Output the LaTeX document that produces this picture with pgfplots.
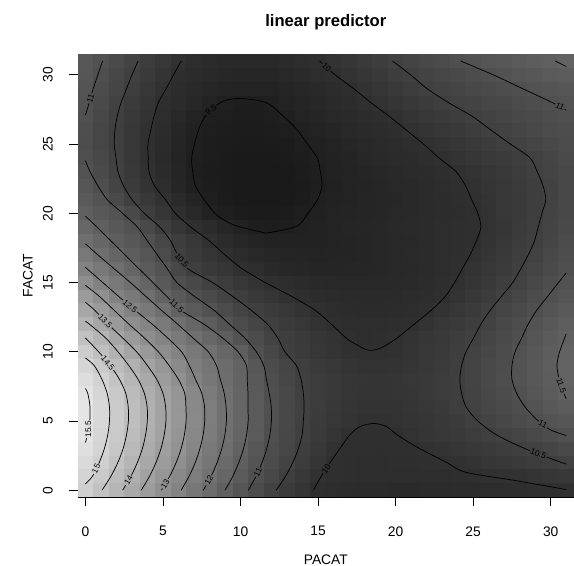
\documentclass[border=0pt]{standalone}
\usepackage{fontspec}
\setmainfont{Liberation Sans}
\usepackage{pgfplots}
\pgfplotsset{compat=1.18}
\definecolor{g95}{gray}{0.124}
\definecolor{g100}{gray}{0.187}
\definecolor{g105}{gray}{0.249}
\definecolor{g110}{gray}{0.312}
\definecolor{g115}{gray}{0.375}
\definecolor{g120}{gray}{0.438}
\definecolor{g125}{gray}{0.501}
\definecolor{g130}{gray}{0.563}
\definecolor{g135}{gray}{0.626}
\definecolor{g140}{gray}{0.689}
\definecolor{g145}{gray}{0.752}
\definecolor{g150}{gray}{0.815}
\definecolor{g155}{gray}{0.877}
\tikzset{lab/.style={font=\fontsize{6.2}{7}\selectfont, inner sep=0.7pt, text=black},
  ylab/.style={font=\fontsize{10.4}{12}\selectfont, rotate=90, inner sep=0pt}}
\pgfdeclareplotmark{cell}{%
  \pgfpathrectangle{\pgfpoint{-5.87pt}{-5.24pt}}{\pgfpoint{11.74pt}{10.48pt}}%
  \pgfusepathqfill}
\begin{document}
\begin{tikzpicture}
\begin{axis}[
  scale only axis,
  width=373.2pt, height=333.1pt,
  xmin=-0.5, xmax=31.5, ymin=-0.5, ymax=31.5,
  y dir=normal,
  axis x line*=bottom, axis y line*=left,
  axis line style={draw=none},
  xtick={0,5,10,15,20,25,30},
  ytick={0,5,10,15,20,25,30},
  yticklabels={},
  tick align=outside,
  major tick length=6.3pt,
  every tick/.style={black, line width=0.6pt},
  tick label style={font=\fontsize{10.4}{12}\selectfont},
  /pgf/number format/assume math mode=true,
  xticklabel shift=12.2pt,
  colormap={rgray}{gray(0cm)=(0.1); gray(1cm)=(0.9)},
  point meta min=9.31, point meta max=15.68,
  clip=false,
  clip marker paths=true,
  cl/.style={black, line width=0.55pt, smooth},
]
\addplot[scatter, only marks, mark=cell, point meta=explicit,
  scatter/use mapped color={draw=none, fill=mapped color}] table[meta=z, row sep=\\] {
x y z\\
0 0 14.95\\1 0 14.53\\2 0 14.15\\3 0 13.75\\4 0 13.35\\5 0 12.96\\6 0 12.57\\7 0 12.21\\8 0 11.86\\9 0 11.50\\10 0 11.17\\11 0 10.86\\12 0 10.58\\13 0 10.35\\14 0 10.15\\15 0 9.95\\16 0 9.90\\17 0 9.87\\18 0 9.85\\19 0 9.84\\20 0 9.83\\21 0 9.83\\22 0 9.84\\23 0 9.85\\24 0 9.87\\25 0 9.89\\26 0 9.91\\27 0 9.93\\28 0 9.95\\29 0 9.97\\30 0 9.99\\31 0 10.00\\
0 1 15.10\\1 1 14.77\\2 1 14.36\\3 1 13.97\\4 1 13.55\\5 1 13.17\\6 1 12.77\\7 1 12.39\\8 1 12.04\\9 1 11.68\\10 1 11.33\\11 1 11.00\\12 1 10.74\\13 1 10.48\\14 1 10.26\\15 1 10.04\\16 1 9.98\\17 1 9.94\\18 1 9.92\\19 1 9.90\\20 1 9.90\\21 1 9.90\\22 1 9.91\\23 1 9.93\\24 1 9.96\\25 1 9.98\\26 1 10.00\\27 1 10.04\\28 1 10.08\\29 1 10.13\\30 1 10.19\\31 1 10.25\\
0 2 15.28\\1 2 14.95\\2 2 14.54\\3 2 14.14\\4 2 13.73\\5 2 13.33\\6 2 12.94\\7 2 12.53\\8 2 12.17\\9 2 11.82\\10 2 11.46\\11 2 11.13\\12 2 10.85\\13 2 10.59\\14 2 10.37\\15 2 10.16\\16 2 9.98\\17 2 9.95\\18 2 9.93\\19 2 9.93\\20 2 9.94\\21 2 9.96\\22 2 9.98\\23 2 10.00\\24 2 10.05\\25 2 10.11\\26 2 10.18\\27 2 10.25\\28 2 10.32\\29 2 10.38\\30 2 10.45\\31 2 10.52\\
0 3 15.44\\1 3 15.08\\2 3 14.68\\3 3 14.27\\4 3 13.86\\5 3 13.45\\6 3 13.07\\7 3 12.66\\8 3 12.28\\9 3 11.93\\10 3 11.57\\11 3 11.23\\12 3 10.92\\13 3 10.68\\14 3 10.45\\15 3 10.26\\16 3 10.07\\17 3 9.99\\18 3 9.97\\19 3 9.96\\20 3 9.97\\21 3 9.99\\22 3 10.03\\23 3 10.10\\24 3 10.18\\25 3 10.25\\26 3 10.33\\27 3 10.40\\28 3 10.47\\29 3 10.56\\30 3 10.67\\31 3 10.77\\
0 4 15.58\\1 4 15.17\\2 4 14.77\\3 4 14.36\\4 4 13.95\\5 4 13.53\\6 4 13.15\\7 4 12.74\\8 4 12.35\\9 4 12.00\\10 4 11.64\\11 4 11.30\\12 4 10.97\\13 4 10.73\\14 4 10.50\\15 4 10.33\\16 4 10.17\\17 4 10.01\\18 4 9.97\\19 4 9.97\\20 4 9.99\\21 4 10.07\\22 4 10.15\\23 4 10.23\\24 4 10.30\\25 4 10.38\\26 4 10.46\\27 4 10.56\\28 4 10.67\\29 4 10.78\\30 4 10.89\\31 4 11.00\\
0 5 15.68\\1 5 15.22\\2 5 14.82\\3 5 14.41\\4 5 14.00\\5 5 13.58\\6 5 13.19\\7 5 12.79\\8 5 12.39\\9 5 12.03\\10 5 11.68\\11 5 11.33\\12 5 11.00\\13 5 10.75\\14 5 10.49\\15 5 10.36\\16 5 10.24\\17 5 10.12\\18 5 10.05\\19 5 10.03\\20 5 10.06\\21 5 10.12\\22 5 10.19\\23 5 10.27\\24 5 10.36\\25 5 10.46\\26 5 10.59\\27 5 10.72\\28 5 10.85\\29 5 10.97\\30 5 11.09\\31 5 11.20\\
0 6 15.66\\1 6 15.22\\2 6 14.81\\3 6 14.40\\4 6 13.99\\5 6 13.57\\6 6 13.18\\7 6 12.78\\8 6 12.38\\9 6 12.03\\10 6 11.67\\11 6 11.33\\12 6 10.99\\13 6 10.76\\14 6 10.52\\15 6 10.38\\16 6 10.26\\17 6 10.16\\18 6 10.10\\19 6 10.09\\20 6 10.11\\21 6 10.16\\22 6 10.24\\23 6 10.33\\24 6 10.44\\25 6 10.56\\26 6 10.69\\27 6 10.82\\28 6 10.95\\29 6 11.09\\30 6 11.24\\31 6 11.38\\
0 7 15.55\\1 7 15.16\\2 7 14.75\\3 7 14.33\\4 7 13.92\\5 7 13.50\\6 7 13.14\\7 7 12.73\\8 7 12.33\\9 7 11.98\\10 7 11.66\\11 7 11.31\\12 7 10.97\\13 7 10.74\\14 7 10.51\\15 7 10.39\\16 7 10.28\\17 7 10.19\\18 7 10.14\\19 7 10.13\\20 7 10.15\\21 7 10.20\\22 7 10.28\\23 7 10.37\\24 7 10.47\\25 7 10.61\\26 7 10.75\\27 7 10.89\\28 7 11.03\\29 7 11.20\\30 7 11.36\\31 7 11.52\\
0 8 15.38\\1 8 15.02\\2 8 14.57\\3 8 14.16\\4 8 13.75\\5 8 13.35\\6 8 12.98\\7 8 12.54\\8 8 12.21\\9 8 11.91\\10 8 11.62\\11 8 11.27\\12 8 10.93\\13 8 10.70\\14 8 10.49\\15 8 10.38\\16 8 10.28\\17 8 10.20\\18 8 10.15\\19 8 10.14\\20 8 10.16\\21 8 10.21\\22 8 10.29\\23 8 10.38\\24 8 10.48\\25 8 10.63\\26 8 10.78\\27 8 10.93\\28 8 11.08\\29 8 11.25\\30 8 11.41\\31 8 11.60\\
0 9 15.15\\1 9 14.79\\2 9 14.36\\3 9 14.00\\4 9 13.58\\5 9 13.19\\6 9 12.81\\7 9 12.44\\8 9 12.14\\9 9 11.86\\10 9 11.60\\11 9 11.22\\12 9 10.89\\13 9 10.66\\14 9 10.46\\15 9 10.33\\16 9 10.22\\17 9 10.13\\18 9 10.08\\19 9 10.07\\20 9 10.10\\21 9 10.17\\22 9 10.26\\23 9 10.36\\24 9 10.46\\25 9 10.62\\26 9 10.77\\27 9 10.92\\28 9 11.09\\29 9 11.26\\30 9 11.43\\31 9 11.60\\
0 10 14.86\\1 10 14.44\\2 10 14.04\\3 10 13.63\\4 10 13.25\\5 10 12.90\\6 10 12.57\\7 10 12.27\\8 10 11.98\\9 10 11.72\\10 10 11.43\\11 10 11.01\\12 10 10.73\\13 10 10.47\\14 10 10.34\\15 10 10.22\\16 10 10.12\\17 10 10.05\\18 10 10.00\\19 10 10.00\\20 10 10.04\\21 10 10.12\\22 10 10.22\\23 10 10.33\\24 10 10.44\\25 10 10.57\\26 10 10.73\\27 10 10.89\\28 10 11.05\\29 10 11.23\\30 10 11.40\\31 10 11.56\\
0 11 14.50\\1 11 14.12\\2 11 13.68\\3 11 13.29\\4 11 12.93\\5 11 12.60\\6 11 12.29\\7 11 11.98\\8 11 11.72\\9 11 11.44\\10 11 11.09\\11 11 10.83\\12 11 10.59\\13 11 10.43\\14 11 10.32\\15 11 10.20\\16 11 10.09\\17 11 9.98\\18 11 9.93\\19 11 9.95\\20 11 10.00\\21 11 10.09\\22 11 10.19\\23 11 10.29\\24 11 10.40\\25 11 10.50\\26 11 10.66\\27 11 10.82\\28 11 10.98\\29 11 11.16\\30 11 11.34\\31 11 11.51\\
0 12 14.08\\1 12 13.69\\2 12 13.30\\3 12 12.93\\4 12 12.60\\5 12 12.29\\6 12 11.98\\7 12 11.69\\8 12 11.39\\9 12 11.08\\10 12 10.85\\11 12 10.65\\12 12 10.47\\13 12 10.35\\14 12 10.22\\15 12 10.10\\16 12 9.98\\17 12 9.93\\18 12 9.91\\19 12 9.92\\20 12 9.95\\21 12 9.99\\22 12 10.09\\23 12 10.21\\24 12 10.33\\25 12 10.44\\26 12 10.58\\27 12 10.75\\28 12 10.91\\29 12 11.08\\30 12 11.25\\31 12 11.42\\
0 13 13.70\\1 13 13.34\\2 13 12.94\\3 13 12.57\\4 13 12.26\\5 13 11.96\\6 13 11.56\\7 13 11.30\\8 13 11.07\\9 13 10.85\\10 13 10.64\\11 13 10.46\\12 13 10.34\\13 13 10.22\\14 13 10.10\\15 13 9.98\\16 13 9.92\\17 13 9.88\\18 13 9.86\\19 13 9.86\\20 13 9.88\\21 13 9.92\\22 13 9.98\\23 13 10.09\\24 13 10.22\\25 13 10.36\\26 13 10.49\\27 13 10.65\\28 13 10.82\\29 13 10.98\\30 13 11.13\\31 13 11.28\\
0 14 13.33\\1 14 12.96\\2 14 12.56\\3 14 12.26\\4 14 11.96\\5 14 11.59\\6 14 11.29\\7 14 11.01\\8 14 10.80\\9 14 10.60\\10 14 10.43\\11 14 10.30\\12 14 10.17\\13 14 10.04\\14 14 9.94\\15 14 9.88\\16 14 9.84\\17 14 9.82\\18 14 9.81\\19 14 9.81\\20 14 9.83\\21 14 9.87\\22 14 9.92\\23 14 9.98\\24 14 10.11\\25 14 10.25\\26 14 10.39\\27 14 10.53\\28 14 10.70\\29 14 10.87\\30 14 11.03\\31 14 11.15\\
0 15 12.93\\1 15 12.55\\2 15 12.25\\3 15 11.97\\4 15 11.62\\5 15 11.29\\6 15 10.98\\7 15 10.76\\8 15 10.54\\9 15 10.38\\10 15 10.24\\11 15 10.09\\12 15 9.97\\13 15 9.90\\14 15 9.84\\15 15 9.80\\16 15 9.77\\17 15 9.76\\18 15 9.76\\19 15 9.77\\20 15 9.79\\21 15 9.83\\22 15 9.88\\23 15 9.94\\24 15 10.03\\25 15 10.16\\26 15 10.29\\27 15 10.43\\28 15 10.58\\29 15 10.75\\30 15 10.92\\31 15 11.05\\
0 16 12.54\\1 16 12.24\\2 16 11.95\\3 16 11.64\\4 16 11.35\\5 16 11.08\\6 16 10.73\\7 16 10.44\\8 16 10.30\\9 16 10.16\\10 16 10.01\\11 16 9.90\\12 16 9.80\\13 16 9.74\\14 16 9.70\\15 16 9.68\\16 16 9.68\\17 16 9.69\\18 16 9.71\\19 16 9.73\\20 16 9.76\\21 16 9.80\\22 16 9.86\\23 16 9.92\\24 16 9.98\\25 16 10.09\\26 16 10.23\\27 16 10.36\\28 16 10.49\\29 16 10.65\\30 16 10.81\\31 16 10.97\\
0 17 12.25\\1 17 11.94\\2 17 11.66\\3 17 11.39\\4 17 11.15\\5 17 10.86\\6 17 10.49\\7 17 10.33\\8 17 10.17\\9 17 10.00\\10 17 9.87\\11 17 9.77\\12 17 9.70\\13 17 9.66\\14 17 9.63\\15 17 9.62\\16 17 9.63\\17 17 9.65\\18 17 9.68\\19 17 9.72\\20 17 9.76\\21 17 9.81\\22 17 9.86\\23 17 9.91\\24 17 9.96\\25 17 10.03\\26 17 10.16\\27 17 10.29\\28 17 10.43\\29 17 10.57\\30 17 10.74\\31 17 10.90\\
0 18 11.95\\1 18 11.68\\2 18 11.43\\3 18 11.21\\4 18 11.00\\5 18 10.69\\6 18 10.42\\7 18 10.21\\8 18 10.00\\9 18 9.85\\10 18 9.72\\11 18 9.63\\12 18 9.58\\13 18 9.56\\14 18 9.56\\15 18 9.58\\16 18 9.61\\17 18 9.64\\18 18 9.68\\19 18 9.72\\20 18 9.76\\21 18 9.80\\22 18 9.85\\23 18 9.90\\24 18 9.95\\25 18 9.99\\26 18 10.11\\27 18 10.24\\28 18 10.37\\29 18 10.51\\30 18 10.67\\31 18 10.84\\
0 19 11.70\\1 19 11.45\\2 19 11.26\\3 19 11.07\\4 19 10.78\\5 19 10.45\\6 19 10.20\\7 19 9.97\\8 19 9.84\\9 19 9.70\\10 19 9.56\\11 19 9.45\\12 19 9.42\\13 19 9.46\\14 19 9.54\\15 19 9.58\\16 19 9.62\\17 19 9.66\\18 19 9.70\\19 19 9.74\\20 19 9.78\\21 19 9.82\\22 19 9.86\\23 19 9.90\\24 19 9.94\\25 19 9.98\\26 19 10.07\\27 19 10.20\\28 19 10.34\\29 19 10.47\\30 19 10.63\\31 19 10.79\\
0 20 11.45\\1 20 11.26\\2 20 11.08\\3 20 10.79\\4 20 10.45\\5 20 10.20\\6 20 9.96\\7 20 9.76\\8 20 9.57\\9 20 9.45\\10 20 9.38\\11 20 9.35\\12 20 9.35\\13 20 9.38\\14 20 9.45\\15 20 9.54\\16 20 9.59\\17 20 9.63\\18 20 9.67\\19 20 9.71\\20 20 9.75\\21 20 9.79\\22 20 9.84\\23 20 9.89\\24 20 9.93\\25 20 9.98\\26 20 10.08\\27 20 10.21\\28 20 10.33\\29 20 10.45\\30 20 10.59\\31 20 10.76\\
0 21 11.30\\1 21 11.09\\2 21 10.81\\3 21 10.50\\4 21 10.27\\5 21 10.03\\6 21 9.83\\7 21 9.63\\8 21 9.47\\9 21 9.39\\10 21 9.34\\11 21 9.32\\12 21 9.32\\13 21 9.34\\14 21 9.39\\15 21 9.51\\16 21 9.57\\17 21 9.62\\18 21 9.66\\19 21 9.70\\20 21 9.74\\21 21 9.79\\22 21 9.84\\23 21 9.89\\24 21 9.95\\25 21 10.01\\26 21 10.11\\27 21 10.22\\28 21 10.32\\29 21 10.43\\30 21 10.56\\31 21 10.74\\
0 22 11.18\\1 22 10.94\\2 22 10.64\\3 22 10.36\\4 22 10.11\\5 22 9.90\\6 22 9.71\\7 22 9.52\\8 22 9.42\\9 22 9.36\\10 22 9.33\\11 22 9.31\\12 22 9.31\\13 22 9.33\\14 22 9.37\\15 22 9.46\\16 22 9.55\\17 22 9.60\\18 22 9.65\\19 22 9.70\\20 22 9.75\\21 22 9.80\\22 22 9.85\\23 22 9.91\\24 22 9.97\\25 22 10.05\\26 22 10.15\\27 22 10.25\\28 22 10.35\\29 22 10.45\\30 22 10.58\\31 22 10.74\\
0 23 11.08\\1 23 10.81\\2 23 10.53\\3 23 10.28\\4 23 10.03\\5 23 9.84\\6 23 9.66\\7 23 9.49\\8 23 9.40\\9 23 9.35\\10 23 9.32\\11 23 9.31\\12 23 9.31\\13 23 9.33\\14 23 9.38\\15 23 9.47\\16 23 9.56\\17 23 9.62\\18 23 9.68\\19 23 9.73\\20 23 9.79\\21 23 9.84\\22 23 9.89\\23 23 9.94\\24 23 10.01\\25 23 10.10\\26 23 10.20\\27 23 10.30\\28 23 10.39\\29 23 10.49\\30 23 10.62\\31 23 10.76\\
0 24 10.98\\1 24 10.74\\2 24 10.49\\3 24 10.25\\4 24 10.01\\5 24 9.83\\6 24 9.65\\7 24 9.49\\8 24 9.41\\9 24 9.36\\10 24 9.33\\11 24 9.32\\12 24 9.33\\13 24 9.36\\14 24 9.41\\15 24 9.50\\16 24 9.58\\17 24 9.65\\18 24 9.72\\19 24 9.78\\20 24 9.84\\21 24 9.89\\22 24 9.95\\23 24 10.02\\24 24 10.11\\25 24 10.19\\26 24 10.28\\27 24 10.36\\28 24 10.44\\29 24 10.54\\30 24 10.67\\31 24 10.80\\
0 25 10.92\\1 25 10.69\\2 25 10.47\\3 25 10.24\\4 25 10.01\\5 25 9.84\\6 25 9.68\\7 25 9.51\\8 25 9.43\\9 25 9.38\\10 25 9.36\\11 25 9.35\\12 25 9.36\\13 25 9.40\\14 25 9.47\\15 25 9.55\\16 25 9.62\\17 25 9.69\\18 25 9.76\\19 25 9.83\\20 25 9.89\\21 25 9.95\\22 25 10.02\\23 25 10.11\\24 25 10.20\\25 25 10.29\\26 25 10.38\\27 25 10.46\\28 25 10.56\\29 25 10.66\\30 25 10.76\\31 25 10.86\\
0 26 10.93\\1 26 10.70\\2 26 10.48\\3 26 10.26\\4 26 10.04\\5 26 9.87\\6 26 9.71\\7 26 9.55\\8 26 9.46\\9 26 9.41\\10 26 9.39\\11 26 9.39\\12 26 9.41\\13 26 9.46\\14 26 9.53\\15 26 9.60\\16 26 9.67\\17 26 9.75\\18 26 9.82\\19 26 9.89\\20 26 9.95\\21 26 10.03\\22 26 10.12\\23 26 10.21\\24 26 10.30\\25 26 10.39\\26 26 10.49\\27 26 10.57\\28 26 10.66\\29 26 10.75\\30 26 10.83\\31 26 10.92\\
0 27 10.99\\1 27 10.75\\2 27 10.51\\3 27 10.30\\4 27 10.09\\5 27 9.91\\6 27 9.76\\7 27 9.60\\8 27 9.49\\9 27 9.44\\10 27 9.42\\11 27 9.42\\12 27 9.45\\13 27 9.51\\14 27 9.60\\15 27 9.67\\16 27 9.75\\17 27 9.82\\18 27 9.89\\19 27 9.96\\20 27 10.04\\21 27 10.13\\22 27 10.23\\23 27 10.32\\24 27 10.41\\25 27 10.50\\26 27 10.58\\27 27 10.66\\28 27 10.74\\29 27 10.82\\30 27 10.90\\31 27 10.98\\
0 28 11.07\\1 28 10.82\\2 28 10.57\\3 28 10.35\\4 28 10.15\\5 28 9.96\\6 28 9.84\\7 28 9.72\\8 28 9.60\\9 28 9.50\\10 28 9.46\\11 28 9.46\\12 28 9.52\\13 28 9.60\\14 28 9.67\\15 28 9.74\\16 28 9.82\\17 28 9.89\\18 28 9.97\\19 28 10.06\\20 28 10.16\\21 28 10.26\\22 28 10.36\\23 28 10.46\\24 28 10.54\\25 28 10.61\\26 28 10.69\\27 28 10.76\\28 28 10.84\\29 28 10.91\\30 28 10.99\\31 28 11.08\\
0 29 11.13\\1 29 10.88\\2 29 10.65\\3 29 10.43\\4 29 10.24\\5 29 10.04\\6 29 9.89\\7 29 9.79\\8 29 9.70\\9 29 9.64\\10 29 9.61\\11 29 9.60\\12 29 9.62\\13 29 9.67\\14 29 9.73\\15 29 9.80\\16 29 9.88\\17 29 9.96\\18 29 10.07\\19 29 10.18\\20 29 10.29\\21 29 10.39\\22 29 10.50\\23 29 10.58\\24 29 10.66\\25 29 10.74\\26 29 10.82\\27 29 10.90\\28 29 10.98\\29 29 11.06\\30 29 11.13\\31 29 11.20\\
0 30 11.18\\1 30 10.95\\2 30 10.73\\3 30 10.50\\4 30 10.31\\5 30 10.13\\6 30 9.96\\7 30 9.86\\8 30 9.78\\9 30 9.73\\10 30 9.70\\11 30 9.69\\12 30 9.71\\13 30 9.76\\14 30 9.83\\15 30 9.91\\16 30 9.99\\17 30 10.09\\18 30 10.19\\19 30 10.30\\20 30 10.40\\21 30 10.50\\22 30 10.60\\23 30 10.69\\24 30 10.79\\25 30 10.88\\26 30 10.97\\27 30 11.06\\28 30 11.14\\29 30 11.22\\30 30 11.30\\31 30 11.38\\
0 31 11.22\\1 31 11.02\\2 31 10.80\\3 31 10.59\\4 31 10.39\\5 31 10.21\\6 31 10.03\\7 31 9.92\\8 31 9.85\\9 31 9.80\\10 31 9.78\\11 31 9.78\\12 31 9.80\\13 31 9.85\\14 31 9.92\\15 31 9.99\\16 31 10.10\\17 31 10.20\\18 31 10.31\\19 31 10.41\\20 31 10.52\\21 31 10.63\\22 31 10.74\\23 31 10.85\\24 31 10.96\\25 31 11.05\\26 31 11.14\\27 31 11.22\\28 31 11.31\\29 31 11.39\\30 31 11.47\\31 31 11.58\\
};
% contour lines
\addplot[cl] coordinates {(0,3.45) (0.13,4) (0.28,5) (0.3,5.6) (0.28,6.2) (0.15,7) (0,7.35)};
\addplot[cl] coordinates {(0,0.45) (0.45,1) (0.89,2) (1.22,3) (1.44,4) (1.55,5) (1.55,6) (1.4,7) (1.07,8) (0.57,9) (0,9.55)};
\addplot[cl] coordinates {(1.07,0) (1.64,1) (2.09,2) (2.43,3) (2.65,4) (2.77,5) (2.76,6) (2.6,7) (2.2,8) (1.6,9) (0.85,10) (0,11)};
\addplot[cl] coordinates {(2.4,0) (2.93,1) (3.35,2) (3.67,3) (3.88,4) (3.99,5) (3.98,6) (3.8,7) (3.4,8) (2.8,9) (2.1,10) (1.3,11) (0.25,12) (0,12.2)};
\addplot[cl] coordinates {(3.6,0) (4.13,1) (4.55,2) (4.87,3) (5.08,4) (5.19,5) (5.17,6) (5.0,7) (4.6,8) (4.0,9) (3.3,10) (2.4,11) (1.45,12) (0.6,13) (0,13.57)};
\addplot[cl] coordinates {(4.9,0) (5.43,1) (5.85,2) (6.17,3) (6.38,4) (6.49,5) (6.48,6) (6.4,7) (6.0,8) (5.4,9) (4.7,10) (3.8,11) (2.8,12) (1.85,13) (0.9,14) (0,14.8)};
\addplot[cl] coordinates {(6.17,0) (6.68,1) (7.08,2) (7.38,3) (7.59,4) (7.69,5) (7.68,6) (7.5,7) (7.1,8) (6.7,9) (6.2,10) (5.3,11) (4.3,12) (3.2,13) (2.14,14) (1.12,15) (0.1,16) (0,16.1)};
\addplot[cl] coordinates {(7.6,0) (8.1,1) (8.49,2) (8.79,3) (8.99,4) (9.09,5) (9.07,6) (8.95,7) (8.7,8) (8.45,9) (7.92,10) (6.93,11) (5.94,12) (4.9,13) (3.9,14) (2.9,15) (1.85,16) (0.8,17) (0,17.8)};
\addplot[cl] coordinates {(9.0,0) (9.5,1) (9.89,2) (10.19,3) (10.39,4) (10.49,5) (10.48,6) (10.48,7) (10.43,8) (10.38,9) (9.84,10) (8.84,11) (7.63,12) (6.15,13) (5.25,14) (4.35,15) (3.45,16) (2.55,17) (1.65,18) (0.75,19) (0,19.8)};
\addplot[cl] coordinates {(10.5,0) (11.0,1) (11.39,2) (11.69,3) (11.89,4) (11.99,5) (11.98,6) (11.85,7) (11.67,8) (11.5,9) (11.02,10) (10.27,11) (9.28,12) (8.29,13) (7.04,14) (5.9,15) (5.28,16) (4.64,17) (4.0,18) (3.36,19) (2.4,20) (1.4,21) (0.8,22) (0.3,23) (0,23.8)};
\addplot[cl] coordinates {(12.3,0) (12.9,1) (13.37,2) (13.73,3) (13.97,4) (14.05,5) (14.1,6) (14.05,7) (13.9,8) (13.6,9) (12.86,10) (12.4,11) (11.73,12) (10.69,13) (9.49,14) (8.2,15) (6.6,16) (5.95,17) (5.5,18) (4.8,19) (3.8,20) (3.0,21) (2.45,22) (2.1,23) (1.97,24) (1.86,25) (1.9,26) (2.05,27) (2.3,28) (2.65,29) (3.0,30) (3.4,31)};
\addplot[cl] coordinates {(6.17,31) (5.68,30) (5.2,29) (4.7,28) (4.42,27) (4.21,26) (4.03,25) (4.05,24) (4.1,23) (4.45,22) (5.15,21) (5.8,20) (6.8,19) (8.0,18) (9.0,17) (10.1,16) (11.6,15) (13.3,14) (14.8,13) (15.85,12) (16.8,11) (17.5,10.5) (18.3,10.1) (19.1,10.3) (20.1,11) (21.2,12) (22.3,13) (23.2,14) (23.8,15) (24.3,16) (24.8,17) (25.2,18) (25.5,19) (25.3,20) (24.9,21) (24.5,22) (23.9,23) (22.8,24) (21.8,25) (20.7,26) (19.6,27) (18.4,28) (17.3,29) (16.1,30) (15.1,31)};
\addplot[cl] coordinates {(14.7,0) (15.2,1) (15.78,2) (16.4,3) (17.05,4) (17.7,4.6) (18.6,4.82) (19.4,4.6) (20.1,4) (21.4,3.1) (23.3,2) (24.5,1.3) (27.7,0.7) (31,0.05)};
\addplot[cl] coordinates {(11.64,18.57) (13.6,19.05) (14.35,20) (14.97,21) (15.25,22) (15.15,23) (14.95,24) (14.32,25) (13.6,26.1) (12.78,27) (11.64,28) (9.93,28.3) (8.9,28.1) (8.1,27.5) (7.5,26.6) (7.1,25.3) (6.85,24) (6.92,23) (7.09,22) (7.64,21) (8.45,19.9) (9.6,19.15) (11.64,18.57)};
\addplot[cl] coordinates {(19.8,31) (20.97,30) (22.03,29) (23.4,28) (24.95,27) (26.16,26) (27.4,25) (28.67,24) (29.13,23) (29.5,22) (29.68,21) (29.43,20) (29.19,19) (28.95,18) (28.55,17) (28.07,16) (27.55,15) (26.82,14) (26.1,13) (25.5,12) (25.03,11) (24.54,10) (24.25,9) (24.14,8) (24.25,7) (24.55,6) (25.3,5) (26.5,4) (28.35,3) (30.7,2) (31,1.9)};
\addplot[cl] coordinates {(24.2,31) (26.3,30) (28.2,29) (30.1,28) (31,27.45)};
\addplot[cl] coordinates {(31,15.7) (30.5,15) (29.8,14) (29.1,13) (28.55,12) (28.13,11) (27.7,10) (27.5,9) (27.5,8) (27.8,7) (28.35,6) (29.2,5) (30.0,4.35) (31,3.95)};
\addplot[cl] coordinates {(31,11.3) (30.9,11) (30.57,10) (30.4,9) (30.55,8) (30.85,7) (31,6.6)};
\addplot[cl] coordinates {(1.1,31) (0.8,30) (0.5,29) (0.25,28) (0,27.1)};
\addplot[cl] coordinates {(30.3,31) (31,30.6)};
% bottom line
\draw[black, line width=0.6pt] (axis cs:-0.5,-0.5) -- (axis cs:31.5,-0.5);
% contour labels
\node[lab, fill=g155, rotate=90] at (axis cs:0.19,4.4) {15.5};
\node[lab, fill=g150, rotate=64] at (axis cs:0.69,1.55) {15};
\node[lab, fill=g140, rotate=59] at (axis cs:2.78,0.71) {14};
\node[lab, fill=g130, rotate=59] at (axis cs:5.15,0.47) {13};
\node[lab, fill=g120, rotate=61] at (axis cs:7.96,0.71) {12};
\node[lab, fill=g110, rotate=66] at (axis cs:11.12,1.31) {11};
\node[lab, fill=g100, rotate=57] at (axis cs:15.52,1.55) {10};
\node[lab, fill=g105, rotate=-21] at (axis cs:29.2,2.64) {10.5};
\node[lab, fill=g110, rotate=-27] at (axis cs:29.5,4.76) {11};
\node[lab, fill=g115, rotate=-71] at (axis cs:30.68,7.56) {11.5};
\node[lab, fill=g110, rotate=-25] at (axis cs:30.6,27.72) {11};
\node[lab, fill=g100, rotate=-42] at (axis cs:15.55,30.55) {10};
\node[lab, fill=g95, rotate=35] at (axis cs:8.1,27.5) {9.5};
\node[lab, fill=g110, rotate=73] at (axis cs:0.33,28.3) {11};
\node[lab, fill=g145, rotate=-50] at (axis cs:1.45,9.2) {14.5};
\node[lab, fill=g135, rotate=-46] at (axis cs:1.28,12.2) {13.5};
\node[lab, fill=g125, rotate=-40] at (axis cs:2.88,13.3) {12.5};
\node[lab, fill=g115, rotate=-43] at (axis cs:5.88,13.3) {11.5};
\node[lab, fill=g105, rotate=-50] at (axis cs:6.21,16.6) {10.5};
\coordinate (bl) at (rel axis cs:0,0);
\coordinate (tr) at (rel axis cs:1,1);
\coordinate (lm) at (rel axis cs:0,0.5);
\coordinate (bm) at (rel axis cs:0.5,0);
\coordinate (tm) at (rel axis cs:0.5,1);
\end{axis}
% y tick labels (placed outside the axis)
\node[ylab] at ([xshift=-22.4pt,yshift=5.2pt]bl) {0};
\node[ylab] at ([xshift=-22.4pt,yshift=57.25pt]bl) {5};
\node[ylab] at ([xshift=-22.4pt,yshift=109.3pt]bl) {10};
\node[ylab] at ([xshift=-22.4pt,yshift=161.35pt]bl) {15};
\node[ylab] at ([xshift=-22.4pt,yshift=213.4pt]bl) {20};
\node[ylab] at ([xshift=-22.4pt,yshift=265.45pt]bl) {25};
\node[ylab] at ([xshift=-22.4pt,yshift=317.5pt]bl) {30};
\node[font=\bfseries\fontsize{12.5}{15}\selectfont] at ([yshift=24.2pt]tm) {linear predictor};
\node[font=\fontsize{10.4}{12}\selectfont] at ([yshift=-47pt]bm) {PACAT};
\node[font=\fontsize{10.4}{12}\selectfont, rotate=90] at ([xshift=-37.4pt]lm) {FACAT};
\pgfresetboundingbox
\path ([xshift=-58.4pt,yshift=-51.5pt]bl) rectangle ([yshift=40.7pt]tr);
\end{tikzpicture}
\end{document}
